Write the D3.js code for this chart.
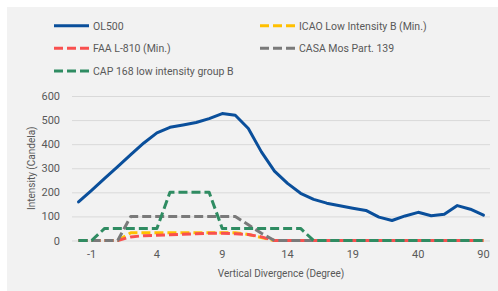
<!DOCTYPE html>
<html>
<head>
<meta charset="utf-8">
<script src="https://cdn.jsdelivr.net/npm/d3@7"></script>
<style>
  html, body { margin: 0; padding: 0; background: #ffffff; }
  svg { display: block; font-family: Roboto, "Noto Sans", sans-serif; }
</style>
</head>
<body>
<svg id="chart" width="498" height="291"></svg>
<script>
// ---- data ----
const categories = ["-2","-1","0","1","2","3","4","5","6","7","8","9","10","11","12","13","14","15","16","17","18","19","20","25","30","35","40","50","60","70","80","90"];
const tickLabels = ["-1","4","9","14","19","40","90"];
const yTicks = [0, 100, 200, 300, 400, 500, 600];
const seriesNames = ["OL500", "ICAO Low Intensity B (Min.)", "FAA L-810 (Min.)", "CASA Mos Part. 139", "CAP 168 low intensity group B"];
const ol500 = [160,208,258,307,357,405,447,470,480,490,506,527,520,465,368,288,237,196,171,155,144,134,125,97,83,102,117,103,109,145,130,105];
const icao  = [0,0,0,0,32,32,32,32,32,32,32,32,32,25,12,0,0,0,0,0,0,0,0,0,0,0,0,0,0,0,0,0];
const faa   = [0,0,0,0,15,20,22,24,26,28,30,30,28,25,15,0,0,0,0,0,0,0,0,0,0,0,0,0,0,0,0,0];
const casa  = [0,0,0,0,100,100,100,100,100,100,100,100,100,65,30,0,0,0,0,0,0,0,0,0,0,0,0,0,0,0,0,0];
const cap   = [0,0,50,50,50,50,50,200,200,200,200,50,50,50,50,50,50,50,0,0,0,0,0,0,0,0,0,0,0,0,0,0];

const seriesValues = [ol500, icao, faa, casa, cap];
const colors = ["#0a4f9b", "#ffc000", "#f9504f", "#7a7a7a", "#2f8c62"];
const dashed = [false, true, true, true, true];

// ---- layout ----
const svg = d3.select("#chart");
svg.append("rect").attr("x", 7).attr("y", 7).attr("width", 491).attr("height", 284).attr("fill", "#f2f2f2");

const pL = 72, pR = 490, pT = 96, pB = 240.5;
const x = d3.scaleBand().domain(categories).range([pL, pR]).padding(0);
const y = d3.scaleLinear().domain([0, 600]).range([pB, pT]);
const cx = c => x(c) + x.bandwidth() / 2;

// gridlines + y labels
const yAxis = svg.append("g").attr("transform", `translate(${pL},0)`)
  .call(d3.axisLeft(y).tickValues(yTicks).tickSize(-(pR - pL)).tickPadding(12));
yAxis.select(".domain").remove();
yAxis.selectAll(".tick line").attr("stroke", "#d9d9d9").attr("stroke-width", 1);
yAxis.selectAll(".tick text").attr("fill", "#595959").attr("font-size", 11).attr("font-family", "Roboto, sans-serif");

// x axis labels
const xAxis = svg.append("g").attr("transform", `translate(0,${pB})`)
  .call(d3.axisBottom(x).tickValues(tickLabels).tickSize(0).tickPadding(10));
xAxis.select(".domain").remove();
xAxis.selectAll(".tick text").attr("fill", "#595959").attr("font-size", 11).attr("font-family", "Roboto, sans-serif");

// axis titles
svg.append("text").attr("x", (pL + pR) / 2).attr("y", 277).attr("text-anchor", "middle")
  .attr("fill", "#595959").attr("font-size", 10).text("Vertical Divergence (Degree)");
svg.append("text").attr("transform", `translate(35,${(pT + pB) / 2}) rotate(-90)`).attr("text-anchor", "middle")
  .attr("fill", "#595959").attr("font-size", 10).text("Intensity (Candela)");

// lines
const line = d3.line().x((d, i) => cx(categories[i])).y(d => y(d));
seriesValues.forEach((vals, s) => {
  svg.append("path").datum(vals)
    .attr("d", line)
    .attr("fill", "none")
    .attr("stroke", colors[s])
    .attr("stroke-width", 3)
    .attr("stroke-linejoin", "round")
    .attr("stroke-linecap", dashed[s] ? "butt" : "round")
    .attr("stroke-dasharray", dashed[s] ? "9,4" : null);
});

// legend
const legPos = [[54, 25.7], [260, 25.7], [54, 48.3], [260, 48.3], [54, 71]];
seriesNames.forEach((name, s) => {
  const [lx, ly] = legPos[s];
  svg.append("line").attr("x1", lx).attr("x2", lx + 35).attr("y1", ly).attr("y2", ly)
    .attr("stroke", colors[s]).attr("stroke-width", 3)
    .attr("stroke-dasharray", dashed[s] ? "9,4" : null);
  svg.append("text").attr("x", lx + 39).attr("y", ly + 4).attr("fill", "#595959")
    .attr("font-size", 10.5).text(name);
});
</script>
</body>
</html>
